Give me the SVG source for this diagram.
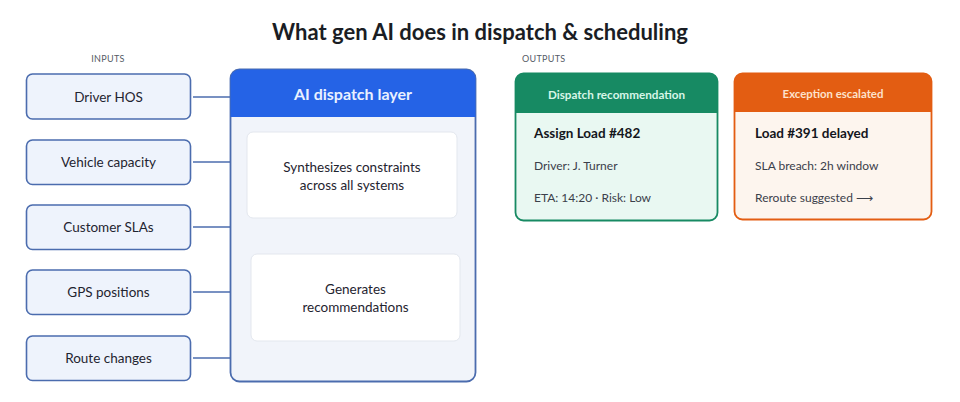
<svg xmlns="http://www.w3.org/2000/svg" width="960" height="402" viewBox="0 0 960 402">
<style>
text{font-family:Lato,"Open Sans","Noto Sans",sans-serif;}
.title{font-size:22px;font-weight:700;fill:#1a1d24;}
.sec{font-size:9px;fill:#555b66;letter-spacing:0.3px;}
.in rect{fill:#eef3fc;stroke:#4b6cae;stroke-width:1.6;}
.in text{font-size:13.5px;fill:#1f2430;text-anchor:middle;}
.conn line{stroke:#4b6cae;stroke-width:1.4;}
.card{fill:#ffffff;stroke:#e3e7ee;stroke-width:1;}
.ct{font-size:13.5px;fill:#1f2430;text-anchor:middle;}
.hdr{font-weight:700;text-anchor:middle;}
.big{font-size:13.5px;font-weight:700;fill:#14161c;}
.sm{font-size:12px;fill:#3b404a;}
</style>
<text class="title" x="480" y="40" text-anchor="middle">What gen AI does in dispatch &amp; scheduling</text>
<text class="sec" x="108" y="62" text-anchor="middle">INPUTS</text>
<text class="sec" x="522" y="62">OUTPUTS</text>

<g id="connectors" class="conn">
<line x1="193" y1="97" x2="230" y2="97"/>
<line x1="193" y1="162" x2="230" y2="162"/>
<line x1="193" y1="227" x2="230" y2="227"/>
<line x1="193" y1="292" x2="230" y2="292"/>
<line x1="193" y1="358" x2="230" y2="358"/>
</g>

<g id="in-driver-hos" class="in"><rect x="26.5" y="74" width="164" height="45" rx="6"/><text x="108.5" y="101.5">Driver HOS</text></g>
<g id="in-vehicle-capacity" class="in"><rect x="26.5" y="140" width="164" height="44.5" rx="6"/><text x="108.5" y="167">Vehicle capacity</text></g>
<g id="in-customer-slas" class="in"><rect x="26.5" y="205" width="164" height="44.5" rx="6"/><text x="108.5" y="232">Customer SLAs</text></g>
<g id="in-gps-positions" class="in"><rect x="26.5" y="270" width="164" height="44.5" rx="6"/><text x="108.5" y="297">GPS positions</text></g>
<g id="in-route-changes" class="in"><rect x="26.5" y="336" width="164" height="44.5" rx="6"/><text x="108.5" y="363">Route changes</text></g>

<g id="ai-dispatch-layer">
<rect x="230.5" y="69.5" width="245" height="312" rx="9" fill="#f1f4fa" stroke="#4b6cae" stroke-width="1.8"/>
<path d="M230.5 117 V78.5 a9 9 0 0 1 9 -9 H466.5 a9 9 0 0 1 9 9 V117 Z" fill="#2563e6"/>
<text class="hdr" x="353" y="100" fill="#eaf1ff" font-size="16">AI dispatch layer</text>
<rect class="card" x="247" y="132" width="210" height="86" rx="6"/>
<text class="ct" x="352" y="172">Synthesizes constraints</text>
<text class="ct" x="352" y="190">across all systems</text>
<rect class="card" x="251" y="254" width="209" height="87" rx="6"/>
<text class="ct" x="355.5" y="294">Generates</text>
<text class="ct" x="355.5" y="312">recommendations</text>
</g>

<g id="out-dispatch-recommendation">
<rect x="515.5" y="73.5" width="202" height="147" rx="8" fill="#e9f8f2" stroke="#178a63" stroke-width="1.8"/>
<path d="M515.5 113 V81.5 a8 8 0 0 1 8 -8 H709.5 a8 8 0 0 1 8 8 V113 Z" fill="#178a63"/>
<text class="hdr" x="616.5" y="99" fill="#d8f6e8" font-size="11.7">Dispatch recommendation</text>
<text class="big" x="534" y="138">Assign Load #482</text>
<text class="sm" x="534" y="170">Driver: J. Turner</text>
<text class="sm" x="534" y="202">ETA: 14:20 · Risk: Low</text>
</g>

<g id="out-exception-escalated">
<rect x="734.5" y="73.5" width="197" height="146" rx="8" fill="#fdf5ee" stroke="#e35d12" stroke-width="1.8"/>
<path d="M734.5 112 V81.5 a8 8 0 0 1 8 -8 H923.5 a8 8 0 0 1 8 8 V112 Z" fill="#e35d12"/>
<text class="hdr" x="833" y="98" fill="#fde2cc" font-size="11.4">Exception escalated</text>
<text class="big" x="755" y="138">Load #391 delayed</text>
<text class="sm" x="755" y="170">SLA breach: 2h window</text>
<text class="sm" x="755" y="202">Reroute suggested ⟶</text>
</g>
</svg>
